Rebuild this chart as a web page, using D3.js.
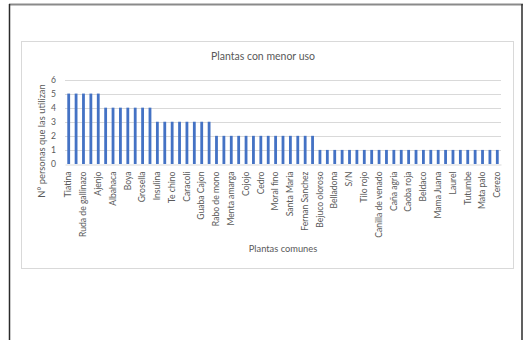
<!DOCTYPE html>
<html>
<head>
<meta charset="utf-8">
<script src="https://cdn.jsdelivr.net/npm/d3@7"></script>
<style>
  html, body { margin: 0; padding: 0; background: #fff; }
  svg { display: block; }
</style>
</head>
<body>
<svg id="chart" width="524" height="340"></svg>
<script>
// Labelled categories (Excel shows every other label; unlabelled bars are "")
const categories = [
  "Tiatina", "", "Ruda de gallinazo", "", "Ajenjo", "", "Albahaca", "", "Boya", "",
  "Grosella", "", "Insulina", "", "Te chino", "", "Caracoli", "", "Guaba Cajon", "",
  "Rabo de mono", "", "Menta amarga", "", "Cojojo", "", "Cedro", "", "Moral fino", "",
  "Santa Maria", "", "Fernan Sanchez", "", "Bejuco oloroso", "", "Belladona", "", "S/N", "",
  "Tilo rojo", "", "Canilla de venado", "", "Caña agria", "", "Caoba roja", "", "Beldaco", "",
  "Mama Juana", "", "Laurel", "", "Tutumbe", "", "Mata palo", "", "Cerezo"
];
const values = [
  5, 5, 5, 5, 5,
  4, 4, 4, 4, 4, 4, 4,
  3, 3, 3, 3, 3, 3, 3, 3,
  2, 2, 2, 2, 2, 2, 2, 2, 2, 2, 2, 2, 2, 2,
  1, 1, 1, 1, 1, 1, 1, 1, 1, 1, 1, 1, 1, 1, 1, 1, 1, 1, 1, 1, 1, 1, 1, 1, 1
];
const yTicks = [0, 1, 2, 3, 4, 5, 6];
const chartTitle = "Plantas con menor uso";
const xTitle = "Plantas comunes";
const yTitle = "N° personas que las utilizan";

const svg = d3.select("#chart");
const font = "Lato, 'Open Sans', sans-serif";

// outer page frame
svg.append("line").attr("x1", 9).attr("x2", 523).attr("y1", 4.5).attr("y2", 4.5)
  .attr("stroke", "#8a8a8a").attr("stroke-width", 2);
svg.append("line").attr("x1", 9.5).attr("x2", 9.5).attr("y1", 4).attr("y2", 340)
  .attr("stroke", "#2b2b2b").attr("stroke-width", 1.5);
svg.append("line").attr("x1", 522).attr("x2", 522).attr("y1", 4).attr("y2", 340)
  .attr("stroke", "#2b2b2b").attr("stroke-width", 1.5);

// chart area border
svg.append("rect").attr("x", 21.5).attr("y", 41.5).attr("width", 492).attr("height", 227)
  .attr("fill", "#fff").attr("stroke", "#d9d9d9").attr("stroke-width", 1);

const x = d3.scaleBand().domain(d3.range(values.length)).range([65, 501]).paddingInner(0.62).paddingOuter(0.31);
const y = d3.scaleLinear().domain([0, 6]).range([164, 79.5]);

// gridlines
svg.append("g").selectAll("line").data(yTicks.filter(d => d > 0)).join("line")
  .attr("x1", 65).attr("x2", 501)
  .attr("y1", d => Math.round(y(d)) + 0.5).attr("y2", d => Math.round(y(d)) + 0.5)
  .attr("stroke", "#d9d9d9").attr("stroke-width", 1);

// bars
svg.append("g").selectAll("rect").data(values).join("rect")
  .attr("x", (d, i) => x(i))
  .attr("width", x.bandwidth())
  .attr("y", d => y(d))
  .attr("height", d => y(0) - y(d))
  .attr("fill", "#4472c4");

// x axis
const xAxis = d3.axisBottom(x).tickSize(0).tickPadding(0).tickFormat(i => categories[i]);
const gx = svg.append("g").attr("transform", `translate(0,${Math.round(y(0)) + 0.5})`).call(xAxis);
gx.select(".domain").attr("stroke", "#d9d9d9");
gx.selectAll("text")
  .attr("font-family", font).attr("font-size", 8.6).attr("fill", "#595959")
  .attr("transform", "rotate(-90)")
  .attr("text-anchor", "end")
  .attr("x", -7).attr("y", 0).attr("dy", "0.32em");

// y axis
const yAxis = d3.axisLeft(y).tickValues(yTicks).tickSize(0).tickPadding(9).tickFormat(d3.format("d"));
const gy = svg.append("g").attr("transform", "translate(65,0)").call(yAxis);
gy.select(".domain").remove();
gy.selectAll("text").attr("font-family", font).attr("font-size", 8.6).attr("fill", "#595959");

// titles
svg.append("text").attr("x", 263).attr("y", 59.5).attr("text-anchor", "middle")
  .attr("font-family", font).attr("font-size", 10.5).attr("fill", "#595959").text(chartTitle);
svg.append("text").attr("x", 283).attr("y", 252).attr("text-anchor", "middle")
  .attr("font-family", font).attr("font-size", 9.3).attr("fill", "#595959").text(xTitle);
svg.append("text").attr("transform", "translate(45,141) rotate(-90)").attr("text-anchor", "middle")
  .attr("font-family", font).attr("font-size", 9.4).attr("fill", "#595959").text(yTitle);
</script>
</body>
</html>
